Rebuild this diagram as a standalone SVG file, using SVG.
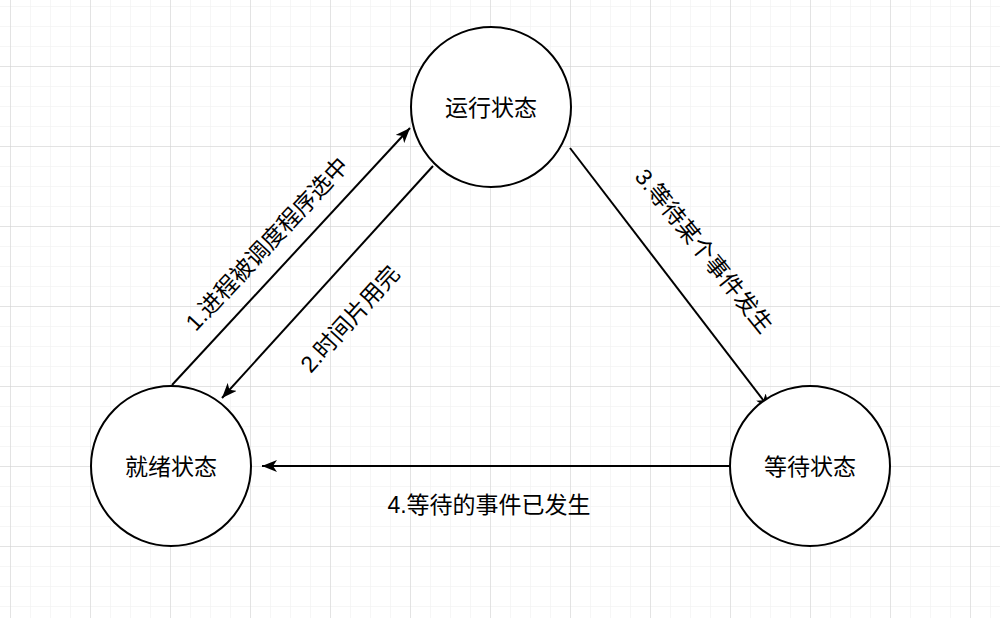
<svg xmlns="http://www.w3.org/2000/svg" width="1000" height="618" viewBox="0 0 1000 618">
<style>
.node circle{fill:#ffffff;stroke:#000000;stroke-width:2}
.node text,.lbl{font-family:"Liberation Sans","Noto Sans CJK SC",sans-serif;font-size:23px;fill:#000000;text-anchor:middle;dominant-baseline:central}
.edge{stroke:#000000;stroke-width:2;fill:none;marker-end:url(#arrow)}
</style>
<defs>
<pattern id="minor" width="20" height="20" x="10" y="6" patternUnits="userSpaceOnUse">
<path d="M0,0 H20 M0,0 V20" stroke="#eeeeee" stroke-width="1" fill="none"/>
</pattern>
<pattern id="major" width="80" height="80" x="10" y="66" patternUnits="userSpaceOnUse">
<path d="M0,0 H80 M0,0 V80" stroke="#d0d0d0" stroke-width="1" fill="none"/>
</pattern>
<marker id="arrow" markerWidth="16" markerHeight="12" refX="15" refY="6" orient="auto" markerUnits="userSpaceOnUse">
<path d="M0,0 L15,6 L0,12 L4,6 z" fill="#000000"/>
</marker>
</defs>
<rect width="1000" height="618" fill="#ffffff"/>
<rect width="1000" height="618" fill="url(#minor)"/>
<rect width="1000" height="618" fill="url(#major)"/>
<g id="connectors">
<line class="edge" x1="172" y1="385" x2="410" y2="128"/>
<line class="edge" x1="433" y1="166" x2="222" y2="398"/>
<line class="edge" x1="570" y1="148" x2="770" y2="409"/>
<line class="edge" x1="730" y1="466" x2="262" y2="466"/>
<text class="lbl" transform="translate(267,244) rotate(-47)">1.进程被调度程序选中</text>
<text class="lbl" transform="translate(350,319) rotate(-47.7)">2.时间片用完</text>
<text class="lbl" transform="translate(704,251) rotate(51)">3.等待某个事件发生</text>
<text class="lbl" x="489" y="505">4.等待的事件已发生</text>
</g>
<g id="running" class="node">
<circle cx="491" cy="107" r="80"/>
<text x="491" y="108">运行状态</text>
</g>
<g id="ready" class="node">
<circle cx="171" cy="466" r="80"/>
<text x="171" y="467">就绪状态</text>
</g>
<g id="waiting" class="node">
<circle cx="810" cy="466" r="80"/>
<text x="810" y="467">等待状态</text>
</g>
</svg>
